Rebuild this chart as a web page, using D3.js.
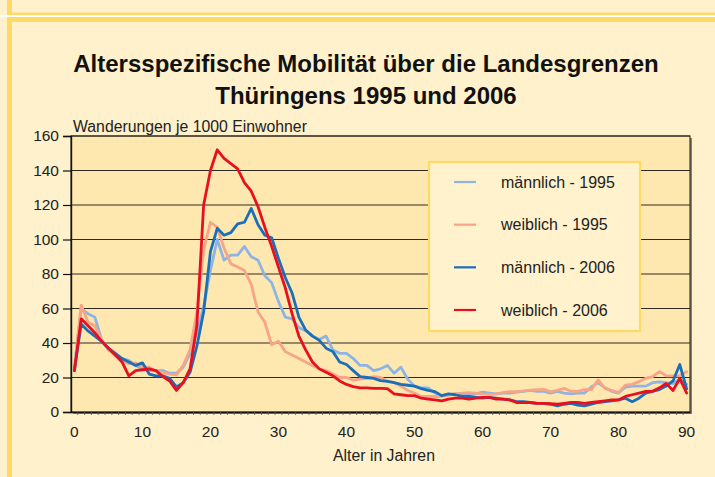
<!DOCTYPE html>
<html><head><meta charset="utf-8">
<script src="https://cdn.jsdelivr.net/npm/d3@7"></script>
<style>body{margin:0;background:#FFF1CB;} svg{display:block;font-family:"Liberation Sans",Arial,sans-serif;}</style>
</head><body>
<svg id="c" width="715" height="477"></svg>
<script>
const ages = d3.range(0, 91);
const yTicks = [0,20,40,60,80,100,120,140,160];
const xTickLabels = [0,10,20,30,40,50,60,70,80,90];
const seriesNames = ["männlich - 1995","weiblich - 1995","männlich - 2006","weiblich - 2006"];
const colors = ["#8DB4E2","#F7A588","#1B6FB8","#E8101E"];

const m1995 = [26,60,57,55,42,36,34,31,30,27,25,24,24,24,22.5,22.5,26,34,46,61,82,100,88,91,91,96,90,88,79,75,64,55,54,49,47,44,42,44,36,34,34,31,27,27,24,25,27,22.5,26,19,15,14,14,11,9.5,10,10.5,10,10,10.5,11.5,11,10.5,11,11,11.5,12,12.5,12,12,11,12,11,10.5,11,11,14.5,17,14,12,11,14.5,15,15,15,17,17.5,17,16.5,19,16];
const w1995 = [25,62,52,50,42,36,33,30,28,28.5,26,26,23.5,23,22,21.5,27,36,58,94,110,107,95,86,84,82,74,58,52,39,41,35,33,31,29,27,25,24,22,20,20,18.5,19,19.5,20.5,20,18,17,15,12.5,11,9,9,9,9,9.8,10.5,11,11.2,11,10.5,10.2,10.5,11.2,11.8,11.8,12.2,12.7,13,13.1,11.8,12.5,13.7,12,12,13,13,18.6,13.7,12.5,11.2,15.6,16,17.6,19.5,20.5,23.4,21,21,21,23.4];
const m2006 = [24,51,47,44,41,37,34,31,29,27,28.5,22,21,21,19.5,14.5,17,23,38,58,93,106.5,102.5,104,109,110,118,108.5,102.5,101,89,78,69,55,47.5,44,41.5,37,35,29,27.5,24,20.5,20,19.5,18.2,17.8,17,16,15.5,15,13.5,12.5,11.8,9.5,10.5,10,9,9,8.5,8,8.5,8,7.5,7,6,6,5.5,5,5,4.5,3.5,4.5,5,4,3.5,4.5,5.5,6,6.5,7,8,6,8,11,12,13,15,18,27.5,13.5];
const w2006 = [24,54,50,46,41,37,33,29,21,24,24.5,25,24,20.5,18,12.5,17,25,50,120,140,152,147,144,141,133,128,119,107,96,84,72,57,44,36,29,25,23,21,18,16,14.7,14,14,13.7,13.7,13.5,10.5,10,9.5,9.5,8,7.5,7,6.5,7.5,8,8,7.5,8,8.5,8.5,7.5,7.5,7,5.5,5.5,5.5,5,5,4.8,4.5,5,5.5,5.5,5,5.5,6,6.5,7,7,9,10,11,12,12,14,16.5,12.5,19.5,11];
const seriesData = [m1995, w1995, m2006, w2006];

const svg = d3.select("#c");
const FONT = "Liberation Sans, Arial, sans-serif";
// page decoration
svg.append("rect").attr("x",0).attr("y",0).attr("width",715).attr("height",477).attr("fill","#FFF1CB");
svg.append("rect").attr("x",7).attr("y",0).attr("width",5).attr("height",15).attr("fill","#FFD966");
svg.append("rect").attr("x",7).attr("y",12.7).attr("width",708).attr("height",2.6).attr("fill","#FFD966");
svg.append("rect").attr("x",0).attr("y",15.3).attr("width",715).attr("height",1.7).attr("fill","#FFFFFF");
svg.append("rect").attr("x",7).attr("y",17).attr("width",708).attr("height",5).attr("fill","#FFD966");
svg.append("rect").attr("x",7).attr("y",17).attr("width",5).attr("height",460).attr("fill","#FFD966");

// title
const title = svg.append("text").attr("text-anchor","middle").attr("font-weight","bold").attr("font-size",24).attr("fill","#111");
title.append("tspan").attr("x",366).attr("y",72).text("Altersspezifische Mobilität über die Landesgrenzen");
title.append("tspan").attr("x",366).attr("y",104).text("Thüringens 1995 und 2006");

const L=71, R=690, T=136, B=412;
const x = d3.scaleBand().domain(ages).range([L,R]);
const xc = a => x(a) + x.bandwidth()/2;
const y = d3.scaleLinear().domain([0,160]).range([B,T]);

// plot area with shadow
svg.append("rect").attr("x",L+2).attr("y",T+2).attr("width",R-L).attr("height",B-T).attr("fill","#8a8270");
svg.append("rect").attr("x",L).attr("y",T).attr("width",R-L).attr("height",B-T).attr("fill","#FFE8B0");

// gridlines
svg.append("g").selectAll("line").data(yTicks.filter(d=>d>0)).join("line")
  .attr("x1",L).attr("x2",R).attr("y1",d=>y(d)).attr("y2",d=>y(d))
  .attr("stroke","#2e2a20").attr("stroke-width",1.1);
svg.append("rect").attr("x",L).attr("y",T).attr("width",R-L).attr("height",B-T).attr("fill","none").attr("stroke","#2e2a20").attr("stroke-width",1.1);

// y axis
const yAxis = d3.axisLeft(y).tickValues(yTicks).tickSize(8).tickPadding(4);
const gy = svg.append("g").attr("transform",`translate(${L},0)`).call(yAxis);
gy.select(".domain").attr("stroke","#111").attr("stroke-width",1.4);
gy.selectAll(".tick line").attr("stroke","#111").attr("stroke-width",1.2);
gy.selectAll("text").attr("font-size",15.5).attr("fill","#222").attr("font-family",FONT);

// x axis
const xAxis = d3.axisBottom(x).tickValues(xTickLabels).tickSize(0).tickPadding(14);
const gx = svg.append("g").attr("transform",`translate(0,${B})`).call(xAxis);
gx.select(".domain").attr("stroke","#111").attr("stroke-width",1.4);
gx.selectAll("text").attr("font-size",15.5).attr("fill","#222").attr("font-family",FONT);
// minor ticks between categories
svg.append("g").selectAll("line").data(ages.slice(1)).join("line")
  .attr("x1",a=>x(a)).attr("x2",a=>x(a)).attr("y1",B).attr("y2",B+3)
  .attr("stroke","#555").attr("stroke-width",0.8);

// axis titles
svg.append("text").attr("x",73).attr("y",132).attr("font-size",15.8).attr("fill","#222").text("Wanderungen je 1000 Einwohner");
svg.append("text").attr("x",384).attr("y",461).attr("text-anchor","middle").attr("font-size",15.8).attr("fill","#222").text("Alter in Jahren");

// lines
const line = d3.line().x((d,i)=>xc(ages[i])).y(d=>y(d)).curve(d3.curveLinear);
seriesData.forEach((s,i)=>{
  svg.append("path").datum(s).attr("d",line).attr("fill","none")
    .attr("stroke",colors[i]).attr("stroke-width",2.8).attr("stroke-linejoin","round").attr("stroke-linecap","round");
});

// legend
const lg = svg.append("g");
lg.append("rect").attr("x",429).attr("y",162).attr("width",211).attr("height",169)
  .attr("fill","#FFF2CC").attr("stroke","#FFD966").attr("stroke-width",2.2);
const legY = d3.scalePoint().domain(seriesNames).range([182,310]);
seriesNames.forEach((n,i)=>{
  lg.append("line").attr("x1",454).attr("x2",476).attr("y1",legY(n)).attr("y2",legY(n))
    .attr("stroke",colors[i]).attr("stroke-width",2.2);
  lg.append("text").attr("x",501).attr("y",legY(n)+5.5).attr("font-size",16).attr("fill","#222").text(n);
});
</script>
</body></html>
